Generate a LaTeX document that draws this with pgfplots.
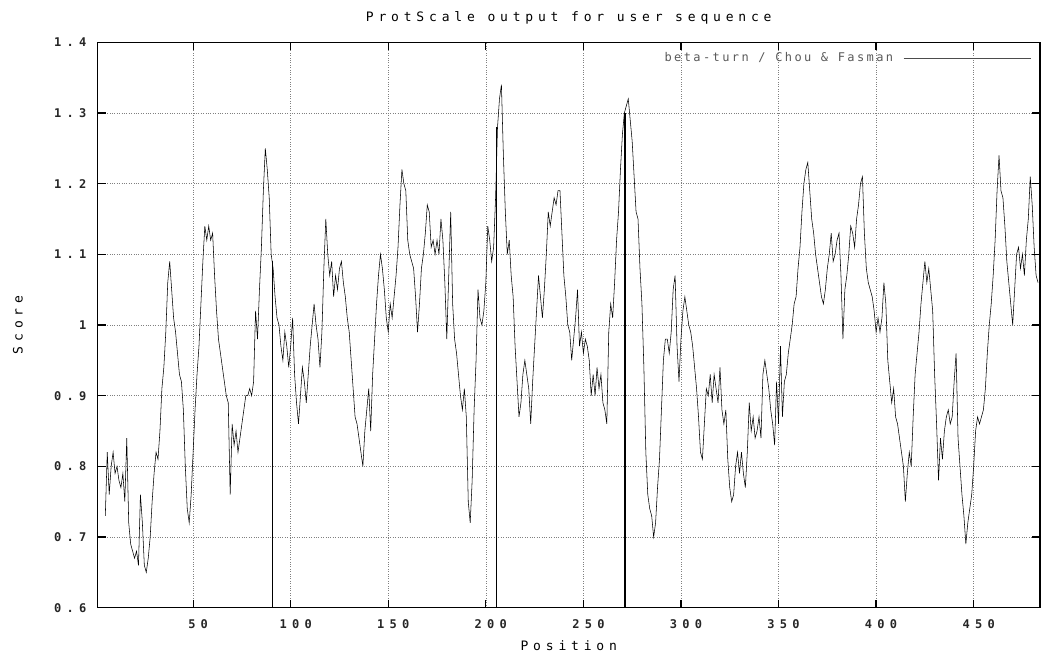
\documentclass[border=0pt]{standalone}
\usepackage{fontspec}
\usepackage{pgfplots}
\pgfplotsset{compat=1.18}
\newfontfamily\gp[LetterSpace=37]{DejaVu Sans Mono}
\newfontfamily\gptick[LetterSpace=44]{DejaVu Sans Mono}
\newfontfamily\gpleg[LetterSpace=20]{DejaVu Sans Mono}

\begin{document}
\begin{tikzpicture}[x=1pt,y=1pt]
\path[use as bounding box] (0,0) rectangle (1041,655);
\begin{axis}[
    at={(97.5pt,47.3pt)}, anchor=south west,
    scale only axis,
    width=942.5pt, height=565.4pt,
    xmin=1, xmax=484, ymin=0.6, ymax=1.4,
    xtick={50,100,150,200,250,300,350,400,450},
    ytick={0.6,0.7,0.8,0.9,1,1.1,1.2,1.3,1.4},
    /pgf/number format/assume math mode=true,
    tick align=inside,
    major tick length=8pt,
    tick style={black, line width=1.2pt},
    axis line style={line width=1.4pt},
    grid=major,
    major grid style={dotted, black!50, line width=0.6pt},
    ticklabel style={font=\fontsize{12}{14}\gptick\bfseries, text=black!85},
    xticklabel style={anchor=base, yshift=-20.5pt, xshift=5pt},
    yticklabel style={anchor=east, inner sep=0pt, xshift=-11pt},
    title={ProtScale output for user sequence},
    every axis title/.style={at={(0.5,1.0359)}, anchor=base, font=\fontsize{13}{15}\gp},
    xlabel={Position},
    xlabel style={at={(0.5,-0.076)}, anchor=base, font=\fontsize{13}{15}\gp},
    ylabel={Score},
    ylabel style={at={(-0.0844,0.5)}, anchor=center, font=\fontsize{13}{15}\gp},
    legend plot pos=right,
    legend style={at={(1,1)}, anchor=north east, draw=none, fill=none,
        xshift=-9pt, yshift=-8pt, font=\fontsize{12}{14}\gpleg, text=black!65,
        inner sep=0pt, /tikz/column sep=8pt},
    legend image code/.code={\draw[black!70, line width=0.6pt] (0pt,0pt) -- (127pt,0pt);},
]
% beta-turn score, window averaged
\addplot[black, line width=0.55pt] coordinates {
(5,0.73)(6,0.82)(7,0.76)(8,0.80)(9,0.82)(10,0.79)(11,0.80)(12,0.78)(13,0.77)(14,0.79)
(15,0.75)(16,0.84)(17,0.72)(18,0.69)(19,0.68)(20,0.67)(21,0.68)(22,0.66)(23,0.76)(24,0.72)
(25,0.66)(26,0.65)(27,0.67)(28,0.70)(29,0.75)(30,0.79)(31,0.82)(32,0.81)(33,0.85)(34,0.91)
(35,0.94)(36,0.99)(37,1.06)(38,1.09)(39,1.05)(40,1.01)(41,0.99)(42,0.96)(43,0.93)(44,0.92)
(45,0.88)(46,0.80)(47,0.74)(48,0.72)(49,0.76)(50,0.82)(51,0.88)(52,0.93)(53,0.97)(54,1.03)
(55,1.09)(56,1.14)(57,1.12)(58,1.14)(59,1.12)(60,1.13)(61,1.07)(62,1.02)(63,0.98)(64,0.96)
(65,0.94)(66,0.92)(67,0.90)(68,0.89)(69,0.76)(70,0.86)(71,0.83)(72,0.85)(73,0.82)(74,0.84)
(75,0.86)(76,0.88)(77,0.90)(78,0.90)(79,0.91)(80,0.90)(81,0.92)
(82,1.02)(83,0.98)(84,1.05)(85,1.11)(86,1.19)(87,1.25)(88,1.22)(89,1.18)(90,1.10)(91,1.08)
(92,1.04)(93,1.01)(94,1.00)(95,0.97)(96,0.95)(97,0.99)(98,0.97)(99,0.94)(100,0.97)(101,1.01)
(102,0.93)(103,0.89)(104,0.86)(105,0.90)(106,0.94)(107,0.92)(108,0.89)(109,0.93)(110,0.97)(111,1.00)
(112,1.03)(113,1.00)(114,0.98)(115,0.94)(116,0.99)(117,1.08)(118,1.15)(119,1.10)(120,1.07)(121,1.09)
(122,1.04)(123,1.07)(124,1.05)(125,1.08)(126,1.09)(127,1.06)(128,1.04)(129,1.01)(130,0.99)(131,0.95)
(132,0.91)(133,0.87)(134,0.86)(135,0.84)(136,0.82)(137,0.80)(138,0.85)(139,0.88)(140,0.91)(141,0.85)
(142,0.93)(143,0.98)(144,1.03)(145,1.07)(146,1.10)(147,1.08)(148,1.05)(149,1.01)(150,0.99)(151,1.03)
(152,1.01)(153,1.04)(154,1.07)(155,1.11)(156,1.17)(157,1.22)(158,1.20)(159,1.19)(160,1.12)(161,1.10)
(162,1.09)
(163,1.08)(164,1.04)(165,0.99)(166,1.03)(167,1.08)(168,1.10)(169,1.13)(170,1.17)(171,1.16)(172,1.11)
(173,1.12)(174,1.10)(175,1.12)(176,1.10)(177,1.15)(178,1.12)(179,1.06)(180,0.98)(181,1.07)(182,1.16)
(183,1.03)(184,0.98)(185,0.96)(186,0.93)(187,0.90)(188,0.88)(189,0.91)(190,0.87)(191,0.75)(192,0.72)
(193,0.78)(194,0.88)(195,0.95)(196,1.05)(197,1.01)(198,1.00)(199,1.02)(200,1.06)(201,1.14)(202,1.12)
(203,1.09)(204,1.11)(205,1.18)(206,1.28)(207,1.32)(208,1.34)(209,1.24)(210,1.16)(211,1.10)(212,1.12)
(213,1.07)(214,1.04)(215,0.97)(216,0.92)(217,0.87)(218,0.89)(219,0.93)(220,0.95)(221,0.93)(222,0.91)
(223,0.86)(224,0.92)(225,0.97)(226,1.02)(227,1.07)(228,1.04)(229,1.01)(230,1.05)(231,1.10)(232,1.16)
(233,1.14)(234,1.16)(235,1.18)(236,1.17)(237,1.19)(238,1.19)(239,1.13)(240,1.07)(241,1.04)(242,1.00)
(243,0.99)(244,0.95)(245,0.98)(246,1.01)(247,1.05)(248,0.97)(249,0.99)(250,0.96)(251,0.98)(252,0.97)
(253,0.95)(254,0.90)(255,0.93)(256,0.90)(257,0.94)(258,0.91)(259,0.93)(260,0.89)(261,0.88)(262,0.86)
(263,0.99)(264,1.03)(265,1.01)(266,1.06)(267,1.12)(268,1.16)(269,1.22)(270,1.27)(271,1.30)(272,1.31)
(273,1.32)(274,1.29)(275,1.26)(276,1.21)(277,1.16)(278,1.15)(279,1.08)(280,1.03)(281,0.94)(282,0.82)
(283,0.76)(284,0.74)(285,0.73)(286,0.70)(287,0.72)(288,0.77)(289,0.81)(290,0.88)(291,0.95)(292,0.98)
(293,0.98)(294,0.96)(295,0.99)(296,1.05)(297,1.07)(298,0.97)(299,0.92)(300,0.98)(301,1.02)(302,1.04)
(303,1.02)(304,1.00)(305,0.99)(306,0.97)(307,0.94)(308,0.91)(309,0.87)(310,0.82)(311,0.81)(312,0.86)
(313,0.91)(314,0.90)(315,0.93)(316,0.89)(317,0.93)(318,0.91)(319,0.89)(320,0.94)(321,0.88)(322,0.86)
(323,0.88)(324,0.81)(325,0.77)(326,0.75)(327,0.76)(328,0.80)(329,0.82)(330,0.79)(331,0.82)(332,0.79)
(333,0.77)(334,0.82)(335,0.89)(336,0.85)(337,0.87)(338,0.84)(339,0.85)(340,0.87)(341,0.84)(342,0.93)
(343,0.95)(344,0.93)(345,0.91)(346,0.88)(347,0.86)(348,0.83)(349,0.92)(350,0.86)(351,0.97)(352,0.87)
(353,0.92)(354,0.93)(355,0.96)(356,0.98)(357,1.00)(358,1.03)(359,1.04)(360,1.08)(361,1.11)(362,1.16)
(363,1.20)(364,1.22)(365,1.23)(366,1.19)(367,1.15)(368,1.13)(369,1.10)(370,1.08)(371,1.06)(372,1.04)
(373,1.03)(374,1.05)(375,1.08)(376,1.10)(377,1.13)(378,1.09)(379,1.10)(380,1.12)(381,1.13)(382,1.07)
(383,0.98)(384,1.05)(385,1.07)(386,1.10)(387,1.14)(388,1.13)(389,1.11)(390,1.15)(391,1.17)(392,1.20)
(393,1.21)(394,1.13)(395,1.08)(396,1.06)(397,1.05)(398,1.04)(399,1.02)(400,0.99)(401,1.01)(402,0.99)
(403,1.01)(404,1.06)(405,1.03)(406,0.95)(407,0.92)(408,0.89)(409,0.91)(410,0.87)(411,0.86)(412,0.84)
(413,0.82)(414,0.80)(415,0.75)(416,0.79)(417,0.82)(418,0.80)(419,0.87)(420,0.93)(421,0.96)(422,0.99)
(423,1.03)(424,1.06)(425,1.09)(426,1.06)(427,1.08)(428,1.05)(429,1.02)(430,0.93)(431,0.86)(432,0.78)
(433,0.84)(434,0.81)(435,0.85)(436,0.87)(437,0.88)(438,0.86)(439,0.87)(440,0.92)(441,0.96)(442,0.84)
(443,0.80)(444,0.76)(445,0.73)(446,0.69)(447,0.72)(448,0.74)(449,0.76)(450,0.80)(451,0.85)(452,0.87)
(453,0.86)(454,0.87)(455,0.88)(456,0.91)(457,0.96)(458,1.00)(459,1.03)(460,1.07)(461,1.12)(462,1.19)
(463,1.24)(464,1.19)(465,1.18)(466,1.14)(467,1.09)(468,1.06)(469,1.03)(470,1.00)(471,1.05)(472,1.10)
(473,1.11)(474,1.08)(475,1.10)(476,1.07)(477,1.12)(478,1.15)(479,1.21)(480,1.17)(481,1.11)(482,1.07)
(483,1.06)
};
\addlegendentry{beta-turn / Chou \& Fasman}
% solid drops to the baseline
\addplot[black, line width=1.4pt, forget plot] coordinates {(90.6,0.6) (90.6,1.09)};
\addplot[black, line width=1.4pt, forget plot] coordinates {(205.6,0.6) (205.6,1.28)};
\addplot[black, line width=1.4pt, forget plot] coordinates {(271.3,0.6) (271.3,1.30)};
\end{axis}
\end{tikzpicture}
\end{document}
